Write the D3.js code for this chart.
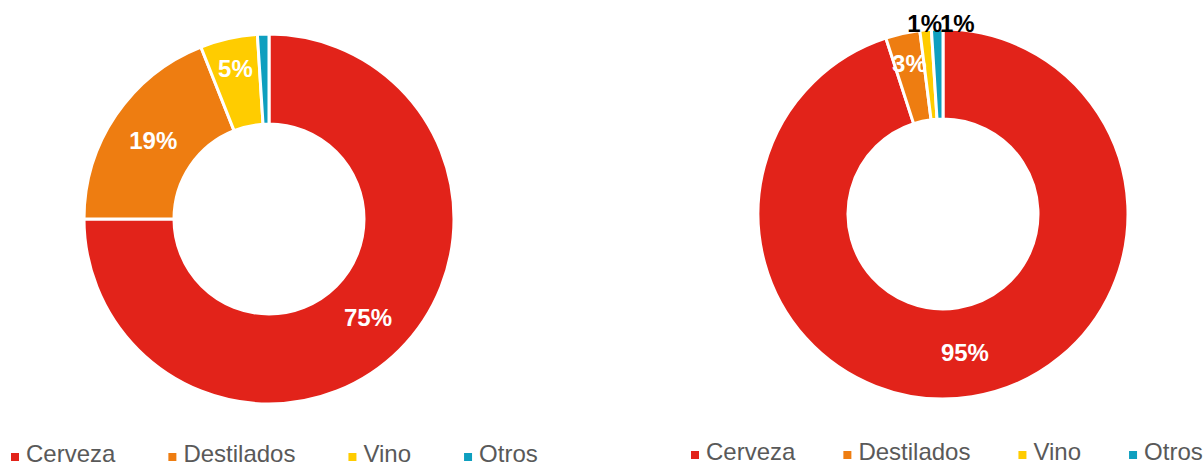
<!DOCTYPE html>
<html>
<head>
<meta charset="utf-8">
<script src="https://cdn.jsdelivr.net/npm/d3@7"></script>
<style>
  body { margin: 0; background: #fff; }
  svg { display: block; font-family: "Liberation Sans", Arial, sans-serif; }
</style>
</head>
<body>
<svg id="svg" width="1203" height="466"></svg>
<script>
// categories and values (percent)
let categories = ["Cerveza", "Destilados", "Vino", "Otros"];
let leftValues = [75, 19, 5, 1];
let rightValues = [95, 3, 1, 1];
// how each label is shown: inside (white), outside (black) or not at all
let leftLabels = ["in", "in", "in", "none"];
let rightLabels = ["in", "in", "out", "out"];

let colors = ["#e2231a", "#ee7d11", "#ffcc00", "#0e9fbf"];

let svg = d3.select("#svg");
let outerR = 185, innerR = 95;

let color = d3.scaleOrdinal().domain(categories).range(colors);

function drawDonut(cx, cy, values, labelModes) {
  let g = svg.append("g").attr("transform", "translate(" + cx + "," + cy + ")");
  let data = categories.map((c, i) => ({ name: c, value: values[i], mode: labelModes[i] }));
  let pie = d3.pie().sort(null).value(d => d.value);
  let arc = d3.arc().innerRadius(innerR).outerRadius(outerR);
  let smallArc = d3.arc().innerRadius(154).outerRadius(154);  // small slices get labels further out
  let outArc = d3.arc().innerRadius(195).outerRadius(195);
  let arcs = pie(data);

  g.selectAll("path")
    .data(arcs)
    .enter()
    .append("path")
    .attr("d", arc)
    .attr("fill", d => color(d.data.name))
    .attr("stroke", "#fff")
    .attr("stroke-width", 3)
    .attr("stroke-linejoin", "miter");

  // labels, outside ones nudged right when they overlap
  let lastRight = -Infinity;
  arcs.forEach(function(d) {
    if (d.data.mode === "none") return;
    let p;
    if (d.data.mode === "out") p = outArc.centroid(d);
    else if (d.data.value < 10) p = smallArc.centroid(d);
    else p = arc.centroid(d);
    let t = g.append("text")
      .attr("text-anchor", "middle")
      .attr("dy", "0.35em")
      .attr("font-size", 24)
      .attr("font-weight", "bold")
      .attr("fill", d.data.mode === "in" ? "#fff" : "#000")
      .text(d.data.value + "%");
    let w = t.node().getComputedTextLength();
    let x = p[0];
    if (d.data.mode === "out") {
      if (x - w / 2 < lastRight) x = lastRight + w / 2 - 2;
      lastRight = x + w / 2;
    }
    t.attr("x", x).attr("y", d.data.mode === "out" ? p[1] + 4 : p[1]);
  });
}

function drawLegend(x0, y0, gap) {
  let g = svg.append("g").attr("transform", "translate(" + x0 + "," + y0 + ")");
  let x = 0;
  categories.forEach(function(c) {
    g.append("rect")
      .attr("x", x).attr("y", -9)
      .attr("width", 8).attr("height", 8)
      .attr("fill", color(c));
    let t = g.append("text")
      .attr("x", x + 15).attr("y", 0)
      .attr("font-size", 24)
      .attr("fill", "#595959")
      .text(c);
    x += 15 + t.node().getComputedTextLength() + gap;
  });
}

drawDonut(269, 219, leftValues, leftLabels);
drawDonut(943, 214, rightValues, rightLabels);
drawLegend(11, 462, 53);
drawLegend(691, 460, 48);
</script>
</body>
</html>
